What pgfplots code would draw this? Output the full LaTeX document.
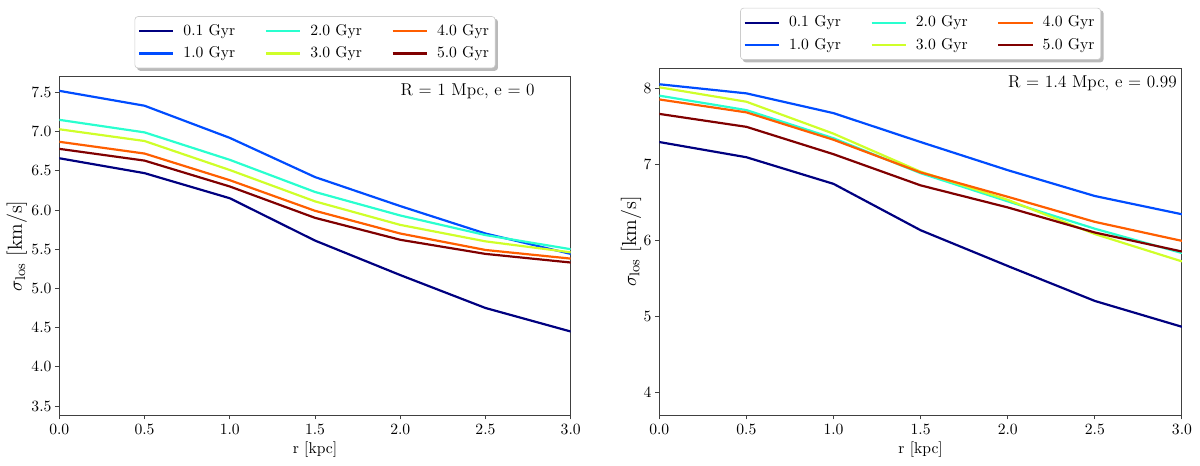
\documentclass[border=0pt]{standalone}
\usepackage{pgfplots}
\usepackage{pgfplotstable}
\pgfplotsset{compat=1.18}

\definecolor{c0}{rgb}{0,0,0.5}
\definecolor{c1}{rgb}{0,0.3,1}
\definecolor{c2}{rgb}{0.16,1,0.81}
\definecolor{c3}{rgb}{0.81,1,0.16}
\definecolor{c4}{rgb}{1,0.37,0}
\definecolor{c5}{rgb}{0.5,0,0}

\pgfdeclarelayer{bg}
\pgfsetlayers{bg,main}

\pgfplotstableread{
r    t01  t1   t2   t3   t4   t5
0.0  6.66 7.52 7.15 7.03 6.87 6.78
0.5  6.47 7.33 6.99 6.88 6.72 6.63
1.0  6.15 6.92 6.64 6.51 6.38 6.30
1.5  5.61 6.42 6.23 6.11 5.99 5.90
2.0  5.17 6.05 5.93 5.81 5.70 5.62
2.5  4.75 5.70 5.68 5.60 5.49 5.44
3.0  4.45 5.44 5.50 5.46 5.38 5.33
}\leftdata

\pgfplotstableread{
r    t01  t1   t2   t3   t4   t5
0.0  7.30 8.06 7.91 8.02 7.86 7.67
0.5  7.10 7.94 7.72 7.83 7.69 7.50
1.0  6.75 7.68 7.35 7.41 7.33 7.14
1.5  6.14 7.30 6.89 6.91 6.90 6.73
2.0  5.67 6.93 6.52 6.54 6.58 6.44
2.5  5.21 6.59 6.16 6.09 6.25 6.11
3.0  4.87 6.35 5.84 5.73 6.00 5.86
}\rightdata

\pgfplotsset{
  panel/.style={
    scale only axis,
    anchor=south west,
    xmin=0, xmax=3,
    xtick={0,0.5,1,1.5,2,2.5,3},
    xticklabel={\pgfmathprintnumber[fixed,fixed zerofill,precision=1]{\tick}},
    xtick pos=bottom, ytick pos=left,
    tick align=outside,
    major tick length=2.75pt,
    axis line style={black!75, line width=0.6pt},
    tick style={black!75, line width=0.6pt},
    ticklabel style={font=\fontsize{10}{12}\selectfont},
    xticklabel style={inner sep=3.3pt},
    yticklabel style={inner xsep=2.1pt},
    xlabel={r [kpc]},
    xlabel style={font=\fontsize{10}{12}\selectfont, at={(axis description cs:0.5,0)}, anchor=center, yshift=-22.4pt},
    ylabel={$\sigma_{\mathrm{los}}$ [km/s]},
    ylabel style={font=\fontsize{13}{15}\selectfont, anchor=center},
    every axis plot/.append style={line width=1.4pt},
    legend columns=3,
    legend image code/.code={\draw[#1] (0pt,0pt) -- (22pt,0pt);},
    legend style={
      at={(0.5,1)}, anchor=south, yshift=5.4pt,
      font=\fontsize{10}{12}\selectfont,
      draw=black!20, fill=white, rounded corners=2pt,
      inner xsep=2pt, inner ysep=3pt, row sep=1.8pt,
      nodes={inner sep=2pt, text depth=0.15em},
      /tikz/every odd column/.append style={column sep=3.7pt},
      /tikz/every even column/.append style={column sep=16.9pt},
    },
  },
}

\begin{document}
\begin{tikzpicture}
\useasboundingbox (0,0) rectangle (768pt,297.6pt);

\begin{axis}[panel,
  at={(37.95pt,32pt)}, width=327.3pt, height=216.5pt,
  ymin=3.385, ymax=7.70,
  ytick={3.5,4,4.5,5,5.5,6,6.5,7,7.5},
  yticklabel={\pgfmathprintnumber[fixed,fixed zerofill,precision=1]{\tick}},
  ylabel style={at={(axis description cs:-0.0833,0.5)}},
  legend style={name=legL},
]
\addplot[c0, forget plot] table[x=r, y=t01] {\leftdata};
\addplot[c1, forget plot] table[x=r, y=t1] {\leftdata};
\addplot[c2, forget plot] table[x=r, y=t2] {\leftdata};
\addplot[c3, forget plot] table[x=r, y=t3] {\leftdata};
\addplot[c4, forget plot] table[x=r, y=t4] {\leftdata};
\addplot[c5, forget plot] table[x=r, y=t5] {\leftdata};
\addlegendimage{c0, line width=1.4pt}\addlegendentry{0.1 Gyr}
\addlegendimage{c2, line width=1.4pt}\addlegendentry{2.0 Gyr}
\addlegendimage{c4, line width=1.4pt}\addlegendentry{4.0 Gyr}
\addlegendimage{c1, line width=1.4pt}\addlegendentry{1.0 Gyr}
\addlegendimage{c3, line width=1.4pt}\addlegendentry{3.0 Gyr}
\addlegendimage{c5, line width=1.4pt}\addlegendentry{5.0 Gyr}
\node[anchor=west, inner sep=0pt, font=\fontsize{11}{13}\selectfont] at (rel axis cs:0.667,0.958) {R = 1 Mpc, e = 0};
\end{axis}

\begin{axis}[panel,
  at={(421.95pt,32pt)}, width=334.5pt, height=221.9pt,
  ymin=3.71, ymax=8.27,
  ytick={4,5,6,7,8},
  ylabel style={at={(axis description cs:-0.054,0.5)}},
  legend style={name=legR},
]
\addplot[c0, forget plot] table[x=r, y=t01] {\rightdata};
\addplot[c1, forget plot] table[x=r, y=t1] {\rightdata};
\addplot[c2, forget plot] table[x=r, y=t2] {\rightdata};
\addplot[c3, forget plot] table[x=r, y=t3] {\rightdata};
\addplot[c4, forget plot] table[x=r, y=t4] {\rightdata};
\addplot[c5, forget plot] table[x=r, y=t5] {\rightdata};
\addlegendimage{c0, line width=1.4pt}\addlegendentry{0.1 Gyr}
\addlegendimage{c2, line width=1.4pt}\addlegendentry{2.0 Gyr}
\addlegendimage{c4, line width=1.4pt}\addlegendentry{4.0 Gyr}
\addlegendimage{c1, line width=1.4pt}\addlegendentry{1.0 Gyr}
\addlegendimage{c3, line width=1.4pt}\addlegendentry{3.0 Gyr}
\addlegendimage{c5, line width=1.4pt}\addlegendentry{5.0 Gyr}
\node[anchor=west, inner sep=0pt, font=\fontsize{11}{13}\selectfont] at (rel axis cs:0.667,0.958) {R = 1.4 Mpc, e = 0.99};
\end{axis}

\begin{pgfonlayer}{bg}
\foreach \L in {legL,legR}{
  \fill[black!45, opacity=0.6, rounded corners=2pt]
    ([shift={(1.6pt,-1.6pt)}]\L.south west) rectangle ([shift={(1.6pt,-1.6pt)}]\L.north east);
}
\end{pgfonlayer}
\end{tikzpicture}
\end{document}
